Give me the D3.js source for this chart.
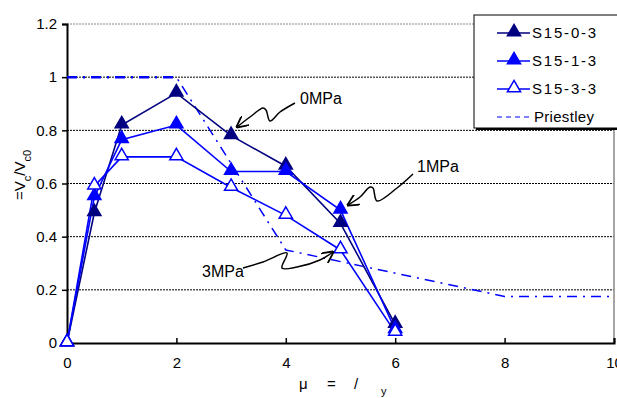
<!DOCTYPE html>
<html>
<head>
<meta charset="utf-8">
<script src="https://cdn.jsdelivr.net/npm/d3@7"></script>
<style>
  body { margin: 0; background: #fff; }
  text { font-family: "Liberation Sans", Arial, sans-serif; }
</style>
</head>
<body>
<div id="chart"></div>
<script>
// données
const mu = [0, 0.5, 1, 2, 3, 4, 5, 6];
const s1503 = [0, 0.49, 0.82, 0.94, 0.78, 0.665, 0.45, 0.07];
const s1513 = [0, 0.55, 0.765, 0.82, 0.645, 0.645, 0.50, 0.05];
const s1533 = [0, 0.59, 0.70, 0.70, 0.585, 0.48, 0.35, 0.04];
const priestleyX = [0, 2, 4, 8, 10];
const priestleyY = [1, 1, 0.35, 0.175, 0.175];
const xTicks = [0, 2, 4, 6, 8, 10];
const yTicks = [0, 0.2, 0.4, 0.6, 0.8, 1, 1.2];

const series = [
  { name: "S15-0-3", values: s1503, color: "#000080", open: false },
  { name: "S15-1-3", values: s1513, color: "#0000ff", open: false },
  { name: "S15-3-3", values: s1533, color: "#0000ff", open: true }
];

const W = 617, H = 398;
const svg = d3.select("#chart").append("svg")
  .attr("width", W).attr("height", H);

// échelles
const x = d3.scaleLinear().domain([0, 10]).range([67, 614]);
const y = d3.scaleLinear().domain([0, 1.2]).range([343, 24]);

// grille
svg.append("g").selectAll("line")
  .data(yTicks.filter(d => d > 0))
  .join("line")
  .attr("x1", x(0)).attr("x2", x(10))
  .attr("y1", d => y(d)).attr("y2", d => y(d))
  .attr("stroke", d => d === 1.2 ? "#888" : "#000")
  .attr("stroke-width", 1)
  .attr("stroke-dasharray", "2,1");

// bord droit
svg.append("line")
  .attr("x1", x(10)).attr("x2", x(10))
  .attr("y1", y(1.2)).attr("y2", y(0))
  .attr("stroke", "#888").attr("stroke-width", 1.5);

// axes
const yAxis = svg.append("g")
  .attr("transform", `translate(${x(0)},0)`)
  .call(d3.axisLeft(y).tickValues(yTicks).tickSize(5).tickFormat(d3.format("")));
const xAxis = svg.append("g")
  .attr("transform", `translate(0,${y(0)})`)
  .call(d3.axisBottom(x).tickValues(xTicks).tickSize(-5).tickFormat(d3.format("")));

[yAxis, xAxis].forEach(g => {
  g.select(".domain").attr("stroke", "#000").attr("stroke-width", 2);
  g.selectAll(".tick line").attr("stroke", "#000").attr("stroke-width", 1.5);
  g.selectAll(".tick text").attr("fill", "#000")
    .style("font-size", "15px").style("font-family", "Liberation Sans, Arial, sans-serif");
});
yAxis.selectAll(".tick text").attr("x", -10);
xAxis.selectAll(".tick text").attr("y", 14);

// Priestley
const lineP = d3.line().x((d, i) => x(priestleyX[i])).y(d => y(d));
svg.append("path")
  .datum(priestleyY)
  .attr("d", lineP)
  .attr("fill", "none")
  .attr("stroke", "#0000ff")
  .attr("stroke-width", 1.5)
  .attr("stroke-dasharray", "10,6,2,6");
// partie horizontale plus épaisse
svg.append("path")
  .datum(priestleyY.slice(0, 2))
  .attr("d", lineP)
  .attr("fill", "none")
  .attr("stroke", "#0000ff")
  .attr("stroke-width", 2.5)
  .attr("stroke-dasharray", "10,6,2,6");

// séries
const line = d3.line().x((d, i) => x(mu[i])).y(d => y(d));
const tri = d3.symbol().type(d3.symbolTriangle).size(75);

series.forEach(s => {
  svg.append("path")
    .datum(s.values)
    .attr("d", line)
    .attr("fill", "none")
    .attr("stroke", s.color)
    .attr("stroke-width", 1.6);
});
series.forEach(s => {
  svg.append("g").selectAll("path")
    .data(s.values)
    .join("path")
    .attr("d", tri)
    .attr("transform", (d, i) => `translate(${x(mu[i])},${y(d) - 1})`)
    .attr("fill", s.open ? "#fff" : s.color)
    .attr("stroke", s.color)
    .attr("stroke-width", 1.5);
});

// annotations (flèches ondulées)
const annots = [
  { label: "0MPa", tx: 300, ty: 104,
    pts: [[295, 103], [280, 112], [270, 121], [266, 110], [263, 108], [250, 117], [237, 127]] },
  { label: "1MPa", tx: 417, ty: 172,
    pts: [[413, 174], [397, 188], [377, 201], [373, 188], [370, 187], [360, 197], [348, 205]] },
  { label: "3MPa", tx: 202, ty: 277,
    pts: [[243, 268], [263, 262], [287, 253], [282, 268], [297, 267], [320, 260], [333, 252]] }
];
svg.append("defs").append("marker")
  .attr("id", "head")
  .attr("viewBox", "0 0 10 10")
  .attr("refX", 9).attr("refY", 5)
  .attr("markerWidth", 8).attr("markerHeight", 8)
  .attr("orient", "auto")
  .append("path")
  .attr("d", "M0,0 L10,5 L0,10")
  .attr("fill", "none").attr("stroke", "#000").attr("stroke-width", 1.5);

annots.forEach(a => {
  svg.append("path")
    .attr("d", d3.line().curve(d3.curveCatmullRom)(a.pts))
    .attr("fill", "none")
    .attr("stroke", "#000")
    .attr("stroke-width", 1.5)
    .attr("marker-end", "url(#head)");
  svg.append("text")
    .attr("x", a.tx).attr("y", a.ty)
    .style("font-size", "16px")
    .text(a.label);
});

// légende
const lg = svg.append("g").attr("transform", "translate(474,15)");
lg.append("rect").attr("x", 2).attr("y", 2).attr("width", 150).attr("height", 113).attr("fill", "#000");
lg.append("rect").attr("width", 150).attr("height", 113)
  .attr("fill", "#fff").attr("stroke", "#000").attr("stroke-width", 1);
const rows = series.concat([{ name: "Priestley", color: "#0000ff", dashed: true }]);
rows.forEach((s, i) => {
  const ry = 18 + i * 28;
  lg.append("line")
    .attr("x1", 23).attr("x2", 56).attr("y1", ry).attr("y2", ry)
    .attr("stroke", s.color)
    .attr("stroke-width", s.dashed ? 1 : 1.6)
    .attr("stroke-dasharray", s.dashed ? "5,4" : null);
  if (!s.dashed) {
    lg.append("path")
      .attr("d", tri)
      .attr("transform", `translate(40,${ry - 1})`)
      .attr("fill", s.open ? "#fff" : s.color)
      .attr("stroke", s.color).attr("stroke-width", 1.5);
  }
  lg.append("text")
    .attr("x", s.dashed ? 60 : 58).attr("y", ry + 5)
    .style("font-size", "15px")
    .style("letter-spacing", s.dashed ? "0.3px" : "1.8px")
    .text(s.name);
});

// titres des axes
svg.append("text")
  .attr("transform", "translate(25,175) rotate(-90)")
  .attr("text-anchor", "middle")
  .style("font-size", "15px")
  .html('=V<tspan baseline-shift="sub" font-size="11px">c</tspan>/V<tspan baseline-shift="sub" font-size="11px">c0</tspan>');

const xl = svg.append("g").style("font-size", "15px");
xl.append("text").attr("x", 299).attr("y", 389).text("μ");
xl.append("text").attr("x", 327).attr("y", 389).text("=");
xl.append("text").attr("x", 354).attr("y", 389).text("/");
xl.append("text").attr("x", 381).attr("y", 395).style("font-size", "11px").text("y");
</script>
</body>
</html>
